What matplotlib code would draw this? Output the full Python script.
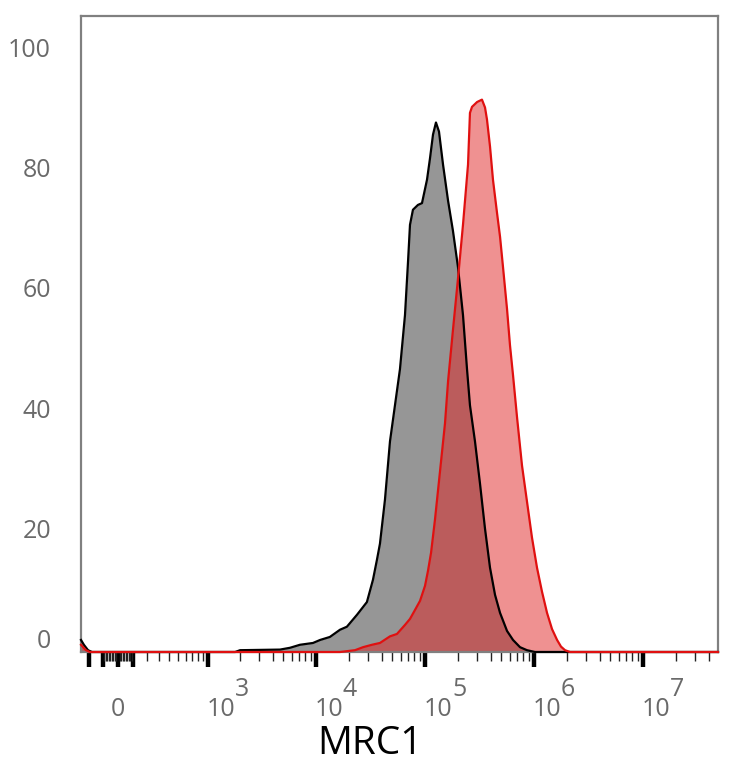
import numpy as np
import matplotlib
matplotlib.use('Agg')
import matplotlib.pyplot as plt
from matplotlib import transforms

plt.rcParams['font.family'] = ['Open Sans', 'DejaVu Sans']

# MRC1 intensity (x) and % of max (y)
ctrl_x = [-263, -239, -206, -176, 1800, 2000, 4670, 5770, 7120, 9380, 10900,
          13400, 16600, 19200, 23800, 29300, 33300, 36200, 38600, 42900, 47700,
          53000, 58900, 65500, 69900, 72800, 77500, 86100, 93800, 104300,
          111000, 118400, 126000, 134300, 146300, 162700, 180400, 200500,
          223000, 242800, 258400, 287300, 319300, 355000, 394700, 438700,
          487800, 565300, 641600, 743600, 861700, 1.02e6, 4.87e7]
ctrl_y = [2.0, 1.2, 0.3, 0.0, 0.0, 0.3, 0.4, 0.7, 1.2, 1.5, 2.0,
          2.5, 3.7, 4.2, 6.2, 8.3, 12, 15.3, 18, 25.3, 35,
          41, 47, 56, 65, 71, 73.5, 74.3, 74.6, 78.5,
          82, 86, 88, 86.5, 81, 75, 70, 64,
          56, 47, 41, 35, 28, 20.5, 14, 9.5,
          6.5, 3.5, 2.0, 0.8, 0.3, 0.0, 0.0]

mrc1_x = [-263, -222, -192, 16600, 22800, 27000, 32600, 38600, 47700, 55300,
          65500, 72800, 81000, 90000, 100000, 106500, 113600, 123400, 137200,
          152500, 162700, 180400, 200500, 223000, 248000, 258400, 269900,
          300100, 332900, 355000, 370100, 394700, 420000, 457400, 487800,
          519100, 565300, 601600, 641600, 698400, 775500, 861700, 957900,
          1.065e6, 1.184e6, 1.316e6, 1.463e6, 1.627e6, 1.767e6, 1.924e6,
          2.139e6, 4.87e7]
mrc1_y = [1.2, 0.3, 0.0, 0.0, 0.3, 0.8, 1.2, 1.5, 2.6, 3.0,
          4.5, 5.5, 7, 8.5, 11, 13.5, 16.5, 22, 30,
          38, 45, 53.5, 62, 71, 81, 89.6, 90.6,
          91.4, 91.8, 90.5, 88.5, 84, 78.5, 73, 69,
          64, 57, 51, 46, 39, 31, 25, 19,
          14, 10, 6.5, 3.8, 2.0, 0.9, 0.3,
          0.0, 0.0]

y_ticks = [0, 20, 40, 60, 80, 100]
decades = [3, 4, 5, 6, 7]
xlabel = 'MRC1'

C = 305.0
fwd = lambda v: np.arcsinh(np.asarray(v, float) / C) / np.log(10)
inv = lambda v: C * np.sinh(np.asarray(v, float) * np.log(10))

fig = plt.figure(figsize=(7.34, 7.68), dpi=100)
ax = fig.add_axes([81 / 734, 116 / 768, 637 / 734, 636 / 768])
ax.set_xscale('function', functions=(fwd, inv))
ax.set_xlim(-263, 4.87e7)
ax.set_ylim(0, 105.7)

ax.fill_between(ctrl_x, ctrl_y, color='#969696', lw=0, zorder=1)
ax.fill_between(mrc1_x, mrc1_y, color=(0.88, 0.14, 0.14), alpha=0.5, lw=0, zorder=2)
ax.plot(ctrl_x, ctrl_y, color='black', lw=1.6, zorder=3, clip_on=False)
ax.plot(mrc1_x, mrc1_y, color='#e01010', lw=1.6, zorder=4, clip_on=False)

for s in ax.spines.values():
    s.set_color('#808080')
    s.set_linewidth(1.6)

# ticks: dense cluster around zero, log minors above
major = [-200, -100, 0, 100] + [10 ** d for d in decades]
minor = list(range(-90, 0, 10)) + list(range(10, 100, 10))
minor += [m * 100 for m in range(2, 10)]
for d in decades:
    minor += [m * 10 ** d for m in range(2, 10) if m * 10 ** d < 4.87e7]
ax.set_xticks(major)
ax.set_xticks(minor, minor=True)
ax.set_xticklabels([])
ax.tick_params(axis='x', which='major', length=11, width=3.2, color='black', direction='out')
ax.tick_params(axis='x', which='minor', length=6.5, width=1.0, color='#222222', direction='out')

ax.set_yticks(y_ticks)
ax.set_yticklabels([])
ax.tick_params(axis='y', length=0)
for v in y_ticks:
    dy = 11 if v == 0 else 0
    tr = transforms.offset_copy(ax.get_yaxis_transform(), fig=fig, x=-30, y=dy, units='dots')
    ax.text(0, v, str(v), transform=tr, ha='right', va='center', fontsize=18, color='#6a6a6a')

# logicle-style tick labels
xt = ax.get_xaxis_transform()
tr0 = transforms.offset_copy(xt, fig=fig, x=0, y=-58, units='dots')
ax.text(0, 0, '0', transform=tr0, ha='center', va='center', fontsize=18, color='#6a6a6a')
for d in decades:
    tb = transforms.offset_copy(xt, fig=fig, x=13, y=-58, units='dots')
    te = transforms.offset_copy(xt, fig=fig, x=34, y=-37, units='dots')
    ax.text(10 ** d, 0, '10', transform=tb, ha='center', va='center', fontsize=18, color='#6a6a6a')
    ax.text(10 ** d, 0, str(d), transform=te, ha='center', va='center', fontsize=18, color='#6a6a6a')

fig.text(370 / 734, 1 - 744 / 768, xlabel, ha='center', va='center', fontsize=28, color='black')

fig.savefig('out.png', dpi=100)
